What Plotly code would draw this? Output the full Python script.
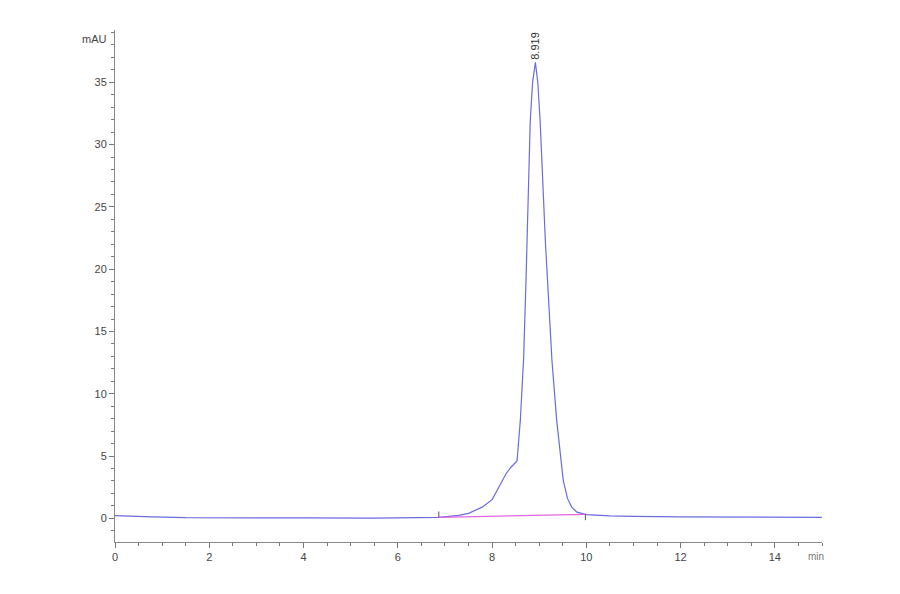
import plotly.graph_objects as go

# Chromatogram data (min, mAU)
time_min = [0, 0.3, 0.8, 1.5, 2.5, 4, 5.5, 6.5, 6.87, 7.29, 7.5, 7.79, 8.0, 8.1, 8.21, 8.3,
            8.4, 8.53, 8.6, 8.67, 8.72, 8.74, 8.81, 8.86, 8.919, 8.97, 9.02, 9.13,
            9.2, 9.27, 9.37, 9.51, 9.6, 9.69, 9.8, 9.9, 10.0, 10.5, 11, 12, 13, 14, 15]
signal_mau = [0.22, 0.2, 0.12, 0.05, 0.02, 0.03, 0.02, 0.05, 0.08, 0.24, 0.4, 0.9, 1.5, 2.2, 3.0, 3.6,
              4.1, 4.6, 7.9, 12.9, 19.1, 22.3, 31.9, 35.0, 36.6, 35.0, 31.9, 22.3,
              17.0, 12.7, 7.9, 3.05, 1.6, 0.9, 0.5, 0.38, 0.3, 0.2, 0.15, 0.12, 0.1, 0.1, 0.08]

# Integration baseline
baseline_t = [6.87, 9.98]
baseline_y = [0.08, 0.32]
start_tick_y = [0.08, 0.55]
end_tick_y = [0.32, -0.15]

peak_rt = 8.919
peak_height = 36.6
peak_label = "8.919"

x_ticks = [0, 2, 4, 6, 8, 10, 12, 14]
y_ticks = [0, 5, 10, 15, 20, 25, 30, 35]

fig = go.Figure()
fig.add_trace(go.Scatter(x=time_min, y=signal_mau, mode="lines",
                         line=dict(color="#6b6be0", width=1.2), showlegend=False))
fig.add_trace(go.Scatter(x=baseline_t, y=baseline_y, mode="lines",
                         line=dict(color="#e066e0", width=1.2), showlegend=False))
fig.add_trace(go.Scatter(x=[baseline_t[0], baseline_t[0]], y=start_tick_y, mode="lines",
                         line=dict(color="#555555", width=1), showlegend=False))
fig.add_trace(go.Scatter(x=[baseline_t[1], baseline_t[1]], y=end_tick_y, mode="lines",
                         line=dict(color="#555555", width=1), showlegend=False))

fig.add_annotation(x=peak_rt, y=peak_height, text=peak_label, textangle=-90,
                   showarrow=False, xanchor="center", yanchor="bottom", yshift=1,
                   font=dict(family="Liberation Sans", size=11, color="#333333"))

axis_font = dict(family="Liberation Sans", size=11, color="#444444")
fig.update_xaxes(range=[0, 15], tickvals=x_ticks, ticks="outside", ticklen=5,
                 tickcolor="#777777", showline=True, linecolor="#888888", linewidth=1,
                 showgrid=False, zeroline=False, tickfont=axis_font,
                 minor=dict(dtick=0.5, tick0=0, ticks="outside", ticklen=3, tickcolor="#777777"))
fig.update_yaxes(range=[-1.9, 39.2], tickvals=y_ticks, ticks="outside", ticklen=5,
                 tickcolor="#777777", showline=True, linecolor="#888888", linewidth=1,
                 showgrid=False, zeroline=False, tickfont=axis_font,
                 minor=dict(dtick=1, tick0=0, ticks="outside", ticklen=3, tickcolor="#777777"))

fig.add_annotation(x=0, y=1, xref="paper", yref="paper", text="mAU", showarrow=False,
                   xanchor="right", yanchor="top", xshift=-6, yshift=-1,
                   font=dict(family="Liberation Sans", size=11, color="#444444"))
fig.add_annotation(x=1, y=0, xref="paper", yref="paper", text="min", showarrow=False,
                   xanchor="center", yanchor="top", xshift=-6, yshift=-7,
                   font=dict(family="Liberation Sans", size=10, color="#777777"))

fig.update_layout(width=900, height=594, plot_bgcolor="white", paper_bgcolor="white",
                  margin=dict(l=107, r=86, t=22, b=60))

fig.write_html("out.html")
